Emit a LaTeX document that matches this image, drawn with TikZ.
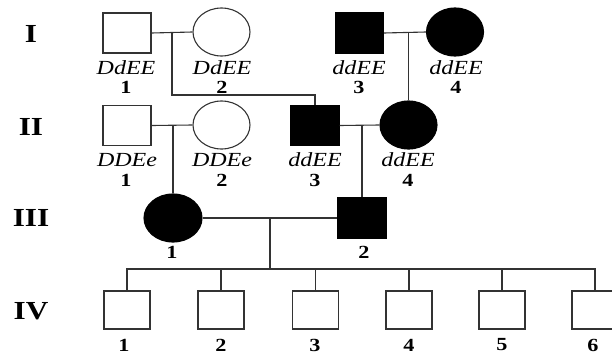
\documentclass[tikz,border=0pt]{standalone}
\usepackage{fontspec}
\setmainfont{Liberation Serif}
\usetikzlibrary{shapes.geometric}
\newcommand{\hs}[1]{\scalebox{1.2}[1]{#1}}
\tikzset{
  x=1pt,y=-1pt,
  male/.style={draw=black!80,line width=1.1pt,rectangle,minimum width=48pt,minimum height=40pt,inner sep=0pt},
  female/.style={draw=black!80,line width=1.1pt,ellipse,minimum width=57pt,minimum height=48pt,inner sep=0pt},
  aff/.style={fill=black,draw=black},
  child/.style={draw=black!80,line width=1.1pt,rectangle,minimum width=46pt,minimum height=38pt,inner sep=0pt},
  link/.style={draw=black!80,line width=1.1pt},
  geno/.style={inner sep=0pt,font=\fontsize{20}{21}\selectfont\itshape},
  num/.style={inner sep=0pt,font=\fontsize{18.5}{19}\selectfont\bfseries},
  gen/.style={inner sep=0pt,font=\fontsize{26}{28}\selectfont\bfseries},
}
\begin{document}
\begin{tikzpicture}
\useasboundingbox (0,0) rectangle (612,356);
\clip (0,0) rectangle (612,356);
% generation labels
\node[gen] (gI) at (31,34) {\hs{I}};
\node[gen] (gII) at (31,127) {\hs{II}};
\node[gen] (gIII) at (31,218) {\hs{III}};
\node[gen] (gIV) at (31,311) {\hs{IV}};
% generation I
\node[male] (I1) at (127,33) {};
\node[female] (I2) at (221.5,32) {};
\node[male,aff] (I3) at (359.5,33) {};
\node[female,aff] (I4) at (455,32) {};
% generation II
\node[male] (II1) at (127,125.5) {};
\node[female] (II2) at (221.5,125) {};
\node[male,aff] (II3) at (315,125.5) {};
\node[female,aff] (II4) at (408.5,125) {};
% generation III
\node[female,aff,minimum width=58pt] (III1) at (173,218) {};
\node[male,aff] (III2) at (362,218) {};
% generation IV
\node[child] (IV1) at (127,310) {};
\node[child] (IV2) at (221,310) {};
\node[child] (IV3) at (315.5,310) {};
\node[child] (IV4) at (409,310) {};
\node[child] (IV5) at (502,310) {};
\node[child] (IV6) at (595,310) {};
% texts
\node[geno] (tI1) at (126,68) {\hs{DdEE}};
\node[geno] (tI2) at (222,68) {\hs{DdEE}};
\node[geno] (tI3) at (359,68) {\hs{ddEE}};
\node[geno] (tI4) at (456,68) {\hs{ddEE}};
\node[num] (nI1) at (126,87) {\hs{1}};
\node[num] (nI2) at (222,87) {\hs{2}};
\node[num] (nI3) at (359,87) {\hs{3}};
\node[num] (nI4) at (456,87) {\hs{4}};
\node[geno] (tII1) at (127,160) {\hs{DDEe}};
\node[geno] (tII2) at (222,160) {\hs{DDEe}};
\node[geno] (tII3) at (315,160) {\hs{ddEE}};
\node[geno] (tII4) at (408,160) {\hs{ddEE}};
\node[num] (nII1) at (126,180) {\hs{1}};
\node[num] (nII2) at (222,180) {\hs{2}};
\node[num] (nII3) at (315,180) {\hs{3}};
\node[num] (nII4) at (408,180) {\hs{4}};
\node[num] (nIII1) at (172,252) {\hs{1}};
\node[num] (nIII2) at (364,252) {\hs{2}};
\node[num] (nIV1) at (124,345) {\hs{1}};
\node[num] (nIV2) at (221,345) {\hs{2}};
\node[num] (nIV3) at (315,345) {\hs{3}};
\node[num] (nIV4) at (409,345) {\hs{4}};
\node[num] (nIV5) at (502,345) {\hs{5}};
\node[num] (nIV6) at (593,345) {\hs{6}};
% connectors
\coordinate (m1) at (172,33);
\coordinate (m1b) at (172,95);
\coordinate (m2) at (II4.north |- I3.east);
\coordinate (m3) at (III1.north |- II1.east);
\coordinate (m4) at (III2.north |- II3.east);
\coordinate (m5) at (270,218);
\coordinate (m5b) at (270,269);
\path[link] (I1.east) -- (I2.west);
\path[link] (m1) -- (m1b) -| (II3.north);
\path[link] (I3.east) -- (I4.west);
\path[link] (m2) -- (II4.north);
\path[link] (II1.east) -- (II2.west);
\path[link] (m3) -- (III1.north);
\path[link] (II3.east) -- (II4.west);
\path[link] (m4) -- (III2.north);
\path[link] (III1.east) -- (III2.west);
\path[link] (m5) -- (m5b);
\path[link] (IV1.north) |- (m5b) -| (IV6.north);
\path[link] (IV2.north) -- (IV2.north |- m5b);
\path[link] (IV3.north) -- (IV3.north |- m5b);
\path[link] (IV4.north) -- (IV4.north |- m5b);
\path[link] (IV5.north) -- (IV5.north |- m5b);
\end{tikzpicture}
\end{document}
